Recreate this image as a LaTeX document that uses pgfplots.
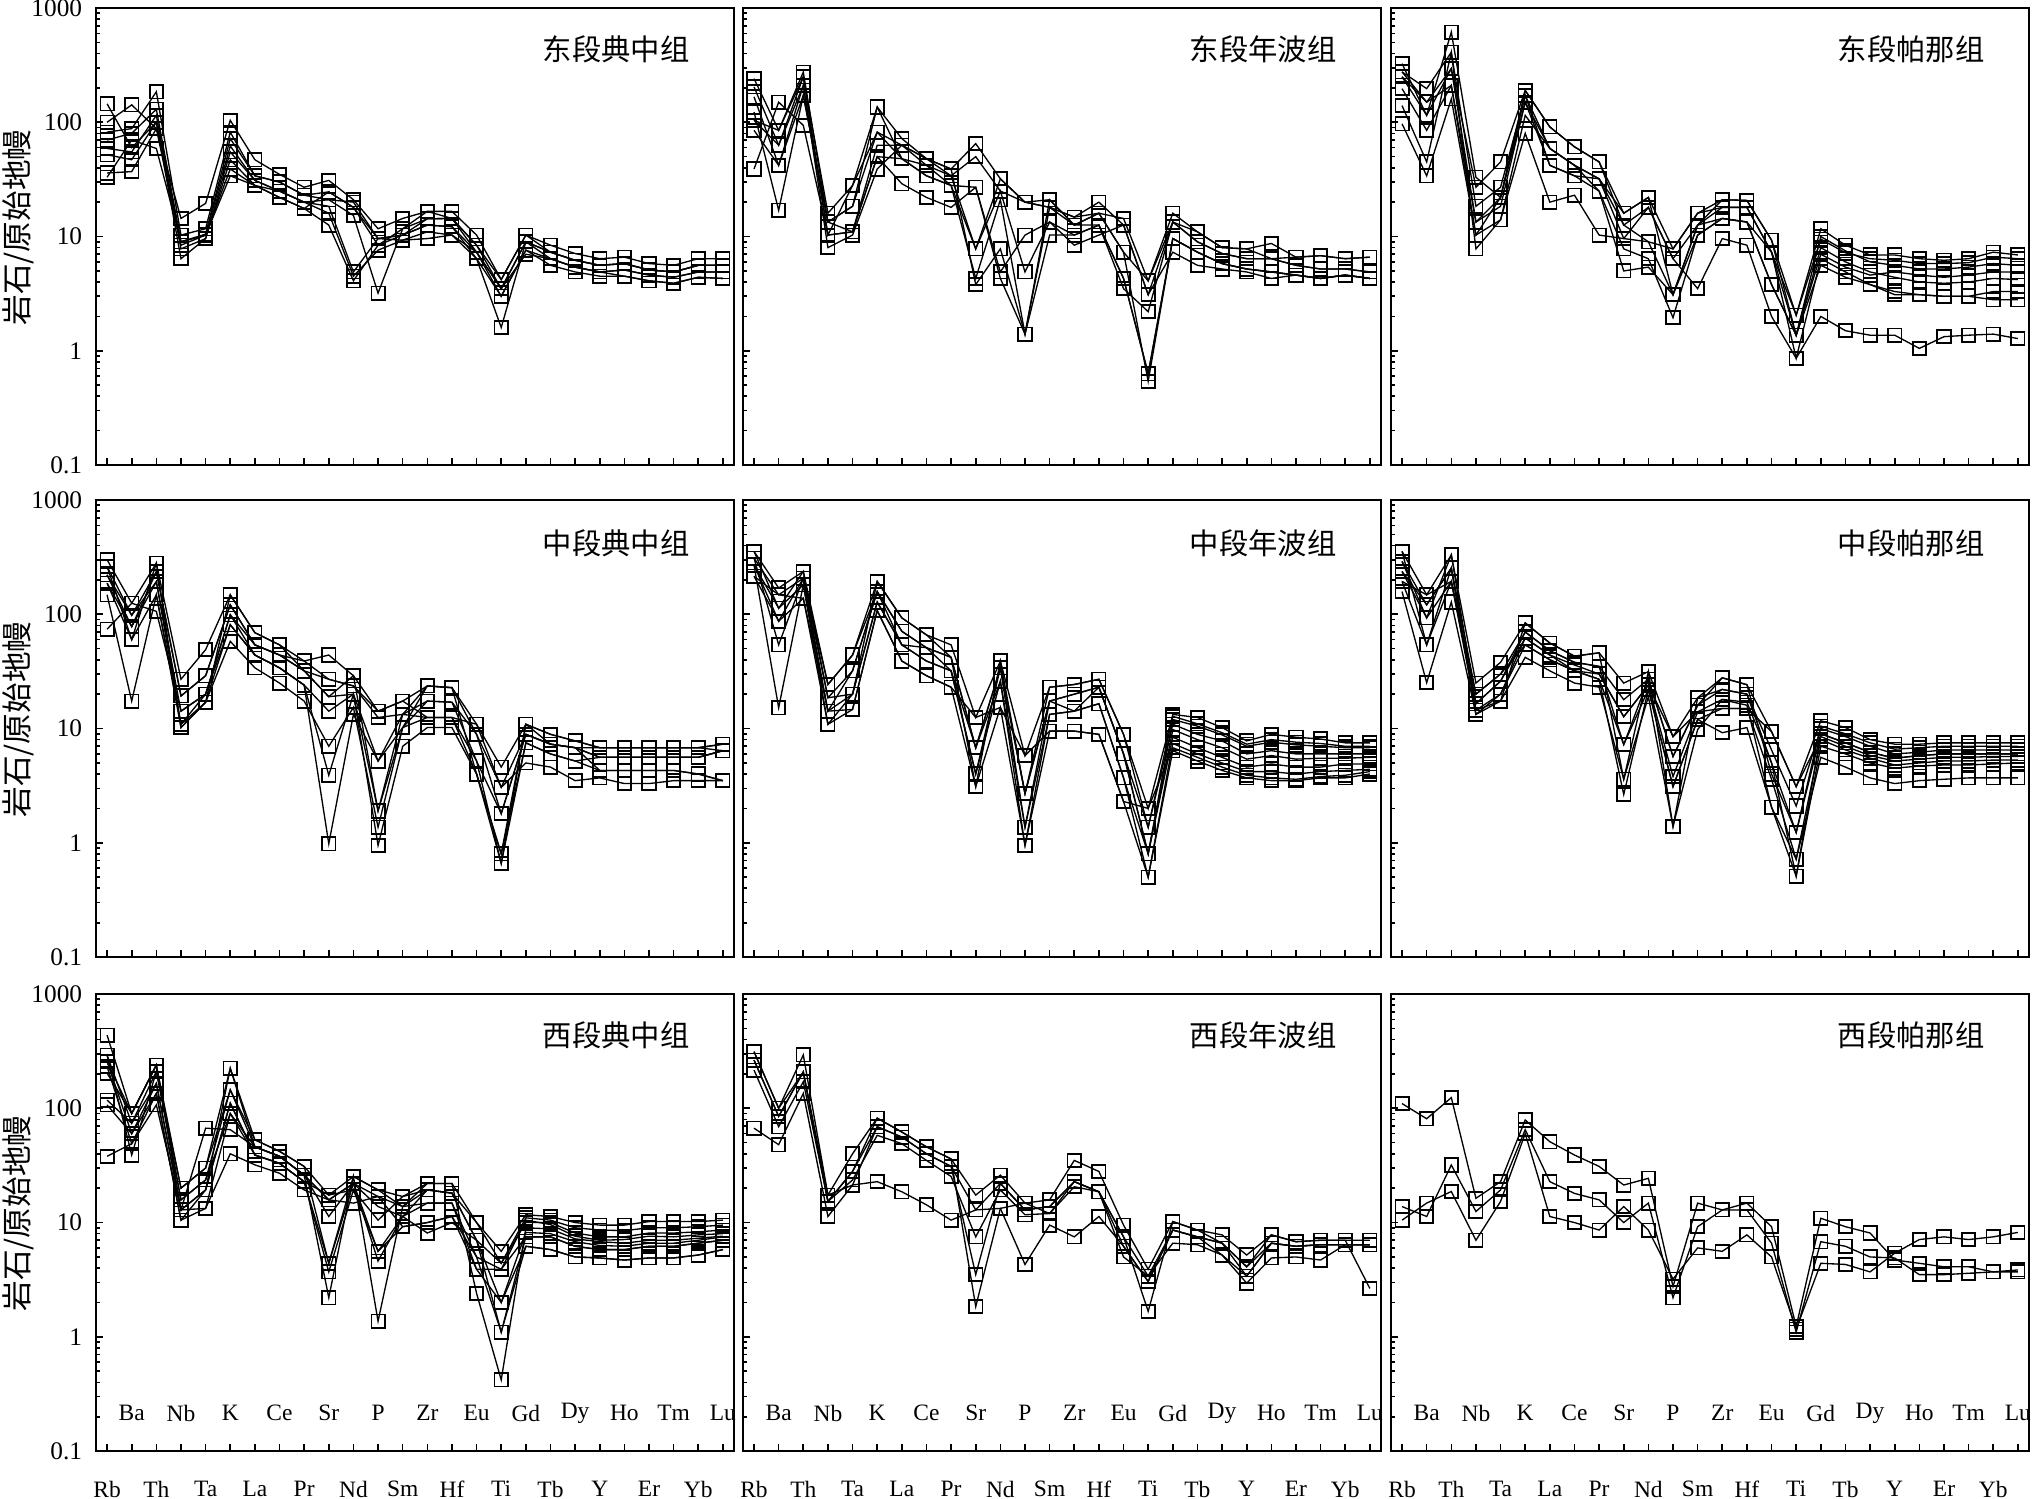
\documentclass[border=0pt]{standalone}
\usepackage{fontspec}
\setmainfont{Liberation Serif}
\newfontfamily\cjk{Noto Sans CJK SC}
\usepackage{pgfplots}
\usepackage{pgfplotstable}
\pgfplotsset{compat=1.18}

% element order: Rb Ba Th Nb Ta K La Ce Pr Sr Nd P Sm Zr Hf Eu Ti Gd Tb Dy Y Ho Er Tm Yb Lu
\pgfplotstableread{
i  A    B    C    D    E    F    G    H
0  145  100  82   70   59   52   36   33
1  60   142  88   80   55   47   37   70
2  100  88   185  130  115  100  88   59
3  9    14.4 10.3 9    7.8  6.4  8.4  9
4  10.5 19.5 11.7 10.3 9.6  9.6  10.3 10.3
5  72   104  82   62   55   47   39   34
6  34   47   34   31   31   28   28   28
7  30   35   30   25   25   22   25   22
8  23   27   23   20   20   17.6 20   17.6
9  21   31   24.6 18.4 16   12.6 21   24.6
10 20   21   18   4.9  4.5  4.1  15.3 18
11 9.6  11.7 8.4  9.6  7.6  8.4  3.2  9.6
12 10.3 14.4 11.7 10.3 9.3  10.3 11.7 9.3
13 14.3 16.6 16.6 12.6 11   12.6 14.3 9.6
14 14.4 16.6 14.4 12.2 10.3 12.2 14.4 10.3
15 8.4  10.3 7.3  7.3  6.4  6.4  8.4  7.3
16 3.5  4.2  3.5  3    3    1.6  4.2  3.5
17 9    10.3 9    7.6  7.6  9    10.3 7
18 7.3  8.4  7.3  6.4  5.6  6.4  7.3  6.4
19 6.2  7.1  6.2  5.4  4.9  5.4  6.2  5.4
20 5.6  6.4  5.6  4.9  4.5  4.9  5.6  4.9
21 5.8  6.6  5.8  5.1  4.5  5.1  5.8  4.5
22 5.1  5.8  5.1  4.6  4.1  4.6  5.1  4.1
23 4.9  5.6  4.9  4.4  3.9  4.4  4.9  3.9
24 5.6  6.4  5.6  4.9  4.4  4.9  5.6  4.4
25 5.6  6.4  5.6  4.9  4.3  4.9  5.6  4.3
}\tEa

\pgfplotstableread{
i  A    B    C    D    E    F    G    H
0  241  204  167  123  104  85   39   104
1  85   63   42   17   63   42   150  85
2  275  250  210  172  210  172  94   250
3  13.4 16   10.3 13.4 8    13.4 10.3 10.3
4  18.4 28   11   11   10.3 18.4 11   28
5  136  82   63   50   39   82   50   136
6  72   63   63   48   63   48   29   48
7  48   42   48   42   48   34   22   34
8  39   34   34   28   39   28   18   28
9  65   50   7.8  4.3  3.8  27   27   7.8
10 32   25   25   21   7.8  4.9  4.3  32
11 20   20   4.9  1.4  1.4  10.3 1.4  20
12 21   18   13.4 21   18   13.4 10.3 18
13 12.6 14.8 10.3 12.6 12.6 8.4  10.3 14.8
14 16   20   12.6 16   12.6 10.3 12.6 16
15 14.4 12.6 4.3  7.3  3.5  12.6 4.3  7.3
16 4.1  3.1  0.63 0.54 2.2  3.1  0.63 4.1
17 16   13.4 9.6  9.6  13.4 7.3  9.6  13.4
18 11   9    7.3  7.3  9    5.6  7.3  11
19 8    7.1  5.8  5.8  7.1  5.2  5.8  8
20 7.8  6.4  5.2  5.2  6.4  4.9  5.2  7.8
21 8.7  6.4  4.9  4.9  6.4  4.3  4.9  6.4
22 6.6  5.6  4.6  4.6  5.6  4.6  4.6  6.6
23 6.8  5.2  4.3  4.3  5.2  4.3  4.3  6.8
24 6.4  5.2  4.6  4.6  5.2  4.6  4.6  6.4
25 6.6  4.9  4.3  4.3  4.9  4.3  4.3  6.6
}\tEb

\pgfplotstableread{
i  A    B    C    D    E    F    G    H
0  326  276  250  197  140  97   250  276
1  115  197  150  85   45   34   115  150
2  615  410  295  210  410  160  295  210
3  33   18.4 13.4 10.3 7.8  10.3 27   13.4
4  22   27   18.4 22   14   14   45   22
5  190  172  150  150  115  80   190  172
6  91   59   59   42   59   20   91   42
7  61   42   42   34   42   23   61   34
8  45   32   32   25   25   10.3 45   32
9  16   12.6 9.6  7.8  5    9.6  12.6 16
10 22   18   9    6.4  5.4  18   9    22
11 7.8  6.4  3.1  1.95 3.1  6.4  7.8  3.1
12 16   12.6 10.3 10.3 12.6 3.5  16   12.6
13 21   18   14.4 14.4 21   9.6  18   14.4
14 20.7 18   13.4 13.4 20.7 8.4  18   13.4
15 9.3  7.3  3.8  7.3  9.3  2    7.3  3.8
16 2.05 1.37 1.37 0.86 1.37 0.86 2.05 1.37
17 11.7 10   8    6.4  5.6  2    9.5  7
18 8.4  7.5  6    4.9  4.4  1.5  7.2  5.4
19 6.9  6    4.9  3.8  3.8  1.37 6.4  4.6
20 6.9  5.6  4.4  3.3  3.1  1.37 6.2  4.9
21 6.4  5.2  4    3.1  3.1  1.05 5.8  4.6
22 6.2  5.2  3.9  3    3    1.33 5.8  4.4
23 6.4  5.4  4    3    3    1.37 5.9  4.6
24 7.3  5.8  4.3  2.8  3.3  1.4  6.6  4.9
25 6.9  5.6  4.2  2.8  3.3  1.28 6.4  4.9
}\tEc

\pgfplotstableread{
i  A    B    C    D    E    F    G    H    I
0  300  262  221  187  148  74   221  187  262
1  125  98   78   60   17.4 125  98   78   60
2  280  236  193  148  148  106  193  236  280
3  27   19.3 14.2 10.9 10.2 14.2 10.9 19.3 10.2
4  49   29   20   17   17   20   20   29   17
5  148  121  99   81   58   81   99   121  148
6  69   54   54   44   34   44   44   54   69
7  54   44   44   34   25   34   34   44   54
8  39   32   32   24   17.4 24   24   39   32
9  44   27   19   14.2 7    3.9  0.98 27   19
10 29   23.6 20   20   15.3 20   13.3 23.6 29
11 14.2 12.5 5.2  1.9  1.37 0.95 5.2  14.2 1.9
12 17.4 13.3 10.2 13.3 10.2 7    13.3 17.4 10.2
13 23.6 23.6 17.4 12.5 12.5 10.2 17.4 12.5 23.6
14 22.8 22.8 17   12.5 12.5 10.2 17   12.5 22.8
15 10.9 8.9  5.2  4    5.2  4    8.9  10.9 4
16 4.6  3.06 1.8  0.8  0.66 0.8  1.8  3.06 0.66
17 10.9 8.9  8.9  7.5  7.5  10.9 8.9  5    10.9
18 8.9  7.3  7.3  6    6    8.9  7.3  4.6  7.3
19 7.8  6.8  6.8  5.2  5.2  7.8  6.8  3.5  6.8
20 6.8  5.6  6.8  5.6  4.3  6.8  5.6  3.7  4.3
21 6.8  5.6  6.8  5.6  4.3  6.8  5.6  3.3  4.3
22 6.8  5.6  6.8  5.6  4.3  6.8  5.6  3.3  4.3
23 6.8  5.6  6.8  5.6  4.3  6.8  5.6  3.5  4.3
24 6.8  5.6  6.8  5.6  4    6.8  5.6  3.5  4
25 7.3  6.4  6.4  6.4  3.5  7.3  6.4  3.5  3.5
}\tMa

\pgfplotstableread{
i  A    B    C    D    E    F    G    H    I
0  355  310  270  215  310  270  355  215  270
1  170  148  113  87   54   15.2 113  148  87
2  237  207  181  138  207  181  237  138  207
3  24.3 18.6 14.2 10.9 14.2 10.9 18.6 14.2 24.3
4  44   32   20   14.7 32   20   20   14.7 44
5  194  158  128  108  158  128  194  108  158
6  93   71   54   39   71   54   93   39   54
7  66   51   39   29   51   39   66   29   51
8  54   42   32   23   32   32   42   23   42
9  12.5 6.8  4    3.1  4    6.8  3.1  12.5 6.8
10 39   34   26   15.3 34   26   39   15.3 34
11 5.8  2.7  1.37 0.95 1.37 0.95 2.7  5.8  2.7
12 23   17.4 13.3 9.5  17.4 13.3 23   9.5  17.4
13 24.3 20   14.2 9.5  20   14.2 24.3 9.5  14.2
14 27   23   16.5 8.9  23   16.5 27   8.9  23
15 8.9  6    3.7  2.3  6    3.7  8.9  2.3  6
16 2    1.37 0.8  0.5  0.8  0.5  1.37 2    0.8
17 13.3 10.9 8.4  6.4  9.8  7.4  12.8 6.8  12
18 12.5 8.9  6.8  5.2  8    6    11   5.6  10.5
19 10.2 7.8  5.6  4.3  6.8  5    9.2  4.6  8.8
20 7.8  6    4.6  3.7  5.4  4.2  7.3  3.9  7
21 8.9  6.4  4.9  3.5  5.8  4.2  8    3.7  7.6
22 8.4  6    4.6  3.5  5.4  4    7.6  3.6  7.2
23 8.1  6    4.6  3.7  5.5  4.2  7.4  3.8  7
24 7.5  6    4.9  3.7  5.5  4.3  7    3.9  6.8
25 7.5  6    4.9  4    5.6  4.4  7    4.2  6.8
}\tMb

\pgfplotstableread{
i  A    B    C    D    E    F    G    H    I
0  355  290  237  194  158  237  290  194  355
1  148  121  93   54   25.2 121  93   148  54
2  331  254  194  194  128  254  331  194  254
3  25   20   16.5 14.5 13.3 13.3 16.5 20   14.5
4  38   30   26   20   17.4 20   26   30   17.4
5  84   70   62   54   42   62   70   54   84
6  56   48   44   40   32   44   48   40   56
7  43   38   36   32   25   32   38   32   43
8  46   35   30   27   23   27   35   30   46
9  25   17.9 12.7 7.25 3.6  2.65 7.25 12.7 3.6
10 31.5 27   24   22   19   22   27   24   31.5
11 8.5  5.7  3.8  3.1  1.39 3.1  5.7  8.5  1.39
12 18.6 16   14   12   9.8  12   16   14   18.6
13 27.8 22   18   15   17.9 9.2  27.8 15   22
14 24.2 20   17   15   16   10.2 24.2 15   20
15 9.4  6.5  5    3.6  2.05 2.05 4    9.4  5
16 3.1  2.1  1.23 0.72 0.51 0.72 1.23 3.1  0.51
17 11.7 10   9    8    7    5.6  10.5 8.5  9
18 10.2 8.5  7.5  6.5  6    4.6  9    7    7.5
19 8    7    6.2  5.5  5    3.7  7.5  5.8  6.2
20 7.3  6    5.5  4.8  4.5  3.3  6.6  5.2  5.5
21 7.3  6.2  5.8  5    4.7  3.5  6.8  5.4  5.8
22 7.5  6.5  6    5.2  4.8  3.6  7    5.6  6
23 7.5  6.5  6    5.2  4.8  3.7  7    5.6  6
24 7.5  6.5  6    5.3  4.9  3.7  7    5.7  6
25 7.5  6.5  6    5.3  5    3.7  7    5.7  6
}\tMc

\pgfplotstableread{
i  A    B    C    D    E    F    G    H    I    J
0  437  292  256  232  203  118  107  38   292  256
1  90   74   60   49   90   74   60   49   39   90
2  239  210  165  135  239  165  135  107  210  239
3  20   15.8 12.9 10.5 15.8 12.9 10.5 12.9 20   12.9
4  30   23.6 19.3 13.3 23.6 67   19.3 13.3 30   19.3
5  224  145  111  90   90   65   111  40   145  224
6  53   46   39   39   46   46   39   32   53   46
7  42   38   33   33   38   38   33   27   42   38
8  31   26   22.8 22.8 26   26   22.8 19.3 31   26
9  17.4 15.8 4.4  3.7  2.2  11.3 17.4 15.8 4.4  15.8
10 25.3 22   22   19.3 25.3 22   19.3 14.8 25.3 22
11 19.3 16.9 13.8 5.6  1.37 4.6  10.5 16.9 19.3 5.6
12 16.9 13.8 11.3 9.2  13.8 11.3 16.9 9.2  13.8 11.3
13 22   19.3 14.8 10   22   8.1  19.3 10   14.8 19.3
14 22   18.1 14.8 11.3 22   10   18.1 11.3 14.8 18.1
15 10   7    5    3.9  2.4  7    10   5    3.9  7
16 5.6  4.4  3.9  2    0.42 1.1  4.4  1.1  3.9  2
17 11.7 10   7.5  6.2  9    7.5  11   6.2  10.5 8.2
18 11.3 10   7.5  5.8  8.8  7.5  10.5 5.8  9.6  8
19 10   8.1  6.2  5    7.2  6.2  9    5    7.6  6.8
20 9.5  7.5  5.8  4.9  6.8  5.8  8.6  4.9  7    6.3
21 9.5  7.5  5.8  4.7  6.6  5.8  8.5  4.7  7.1  6.2
22 10.2 8.1  6.2  4.9  7    6.2  9    4.9  7.6  6.6
23 10.2 8.1  6.2  4.9  7    6.2  9    4.9  7.5  6.6
24 10.2 8.3  6.6  5.2  7.3  6.6  9.2  5.2  7.8  7
25 10.5 8.6  7    5.8  7.6  7    9.5  5.8  8    7.5
}\tWa

\pgfplotstableread{
i  A    B    C    D    E    F
0  313  264  216  264  313  67
1  100  85   69   85   100  48
2  293  208  171  208  208  135
3  17.4 15.3 15.3 17.4 15.3 11.3
4  40   28   23.6 21.3 28   21.3
5  82   69   58   69   82   22.8
6  62   56   49   56   62   18.6
7  46   40   35   40   46   14.3
8  36   31   25.3 31   36   10.5
9  17.4 12.9 7.5  3.5  1.84 12.9
10 26   22   19.3 22   13.3 13.3
11 14.8 12.9 11.7 12.9 14.8 4.3
12 15.8 13.8 12   13.8 12   9.5
13 35   22.8 20.6 22.8 22.8 7.5
14 28   18.6 18.6 18.6 18.6 11.3
15 9.5  7.5  6.2  5    7.5  6.2
16 3.9  3.4  3.05 3.4  1.67 3.05
17 10.2 8.6  8.6  6.6  10.2 8.6
18 8.6  7.5  7.5  6.4  8.6  7.5
19 7.8  6.6  6.6  5.2  6.6  5.2
20 5.2  4.1  3.4  2.95 4.1  3.4
21 7.8  6.6  6.6  4.9  7.8  6.6
22 6.8  6.2  6.2  5    6.8  6.2
23 7    6.4  6.4  4.7  7    6.4
24 7    6.4  6.4  6.4  7    6.4
25 7    6.4  6.4  6.4  2.65 6.4
}\tWb

\pgfplotstableread{
i  A    B    C
0  110  13.8 10.5
1  81   11.3 14.8
2  124  31.9 18.7
3  16.3 12.5 7
4  22.8 19.3 15.3
5  79   65   60
6  51   22.8 11.3
7  39   18   10
8  31   15.8 8.6
9  21.3 10   13.8
10 24.4 14.8 8.6
11 2.76 2.2  3.2
12 14.8 9.2  6
13 12.9 12.9 5.6
14 14.8 12.9 7.8
15 9.2  6.6  5
16 1.23 1.1  1.17
17 10.9 6.8  4.4
18 9.2  6.2  4.3
19 8.1  5    3.7
20 4.7  4.9  5.4
21 4.4  3.5  7.1
22 4.1  3.5  7.5
23 4.1  3.6  7.1
24 3.7  3.7  7.5
25 3.85 3.7  8.2
}\tWc

% one panel: #1 position and extra options
\newcommand{\spax}[1]{\begin{axis}[
    scale only axis, width=239.25pt, height=171.4pt,
    anchor=north west,
    ymode=log, ymin=0.1, ymax=1000, xmin=-0.45, xmax=25.45,
    xtick={0,...,25}, xticklabels={},
    ytick={0.1,1,10,100,1000}, yticklabels={0.1,1,10,100,1000},
    minor ytick={0.2,0.3,0.4,0.5,0.6,0.7,0.8,0.9,2,3,4,5,6,7,8,9,20,30,40,50,60,70,80,90,200,300,400,500,600,700,800,900},
    tick align=inside, tick pos=left,
    major tick length=2.8pt, minor tick length=1.6pt,
    tick style={black, line width=0.6pt},
    axis line style={line width=0.9pt},
    yticklabel style={font=\fontsize{9.5}{9.5}\selectfont, inner sep=0pt, xshift=-5pt},
    #1]}
\newcommand{\series}[2]{\pgfplotsinvokeforeach{#1}{%
  \addplot[black, line width=0.5pt, mark=square, mark size=2.5pt,
    mark options={solid, line width=0.65pt}] table[x=i,y=##1]{#2};}}
\newcommand{\ttl}[2]{\node[anchor=east, inner sep=0pt, font=\cjk\fontsize{11}{12}\selectfont]
  at (rel axis cs:0.931,#1) {#2};}

\begin{document}
\begin{tikzpicture}
\useasboundingbox (0,0) rectangle (762pt,-562.1pt);
% row 1
\spax{at={(36pt,-3pt)}, ylabel={\cjk 岩石/原始地幔},
  ylabel style={at={(axis description cs:-0.122,0.52)}, anchor=center, inner sep=0pt, font=\fontsize{11.5}{11.5}\selectfont}}
\series{A,B,C,D,E,F,G,H}{\tEa}
\ttl{0.91}{东段典中组}
\end{axis}
\spax{at={(278.6pt,-3pt)}, yticklabels={}}
\series{A,B,C,D,E,F,G,H}{\tEb}
\ttl{0.91}{东段年波组}
\end{axis}
\spax{at={(521.6pt,-3pt)}, yticklabels={}}
\series{A,B,C,D,E,F,G,H}{\tEc}
\ttl{0.91}{东段帕那组}
\end{axis}
% row 2
\spax{at={(36pt,-187.5pt)}, ylabel={\cjk 岩石/原始地幔},
  ylabel style={at={(axis description cs:-0.122,0.52)}, anchor=center, inner sep=0pt, font=\fontsize{11.5}{11.5}\selectfont}}
\series{A,B,C,D,E,F,G,H,I}{\tMa}
\ttl{0.905}{中段典中组}
\end{axis}
\spax{at={(278.6pt,-187.5pt)}, yticklabels={}}
\series{A,B,C,D,E,F,G,H,I}{\tMb}
\ttl{0.905}{中段年波组}
\end{axis}
\spax{at={(521.6pt,-187.5pt)}, yticklabels={}}
\series{A,B,C,D,E,F,G,H,I}{\tMc}
\ttl{0.905}{中段帕那组}
\end{axis}
% row 3
\spax{at={(36pt,-372.75pt)}, ylabel={\cjk 岩石/原始地幔},
  ylabel style={at={(axis description cs:-0.122,0.52)}, anchor=center, inner sep=0pt, font=\fontsize{11.5}{11.5}\selectfont},
  xtick={0,2,...,24}, xticklabels={Rb,Th,Ta,La,Pr,Nd,Sm,Hf,Ti,Tb,Y,Er,Yb},
  xticklabel style={anchor=center, yshift=-14.25pt, font=\fontsize{8.8}{8.8}\selectfont},
  extra x ticks={1,3,...,25}, extra x tick labels={Ba,Nb,K,Ce,Sr,P,Zr,Eu,Gd,Dy,Ho,Tm,Lu},
  extra x tick style={xticklabel style={yshift=28.5pt}}}
\series{A,B,C,D,E,F,G,H,I,J}{\tWa}
\ttl{0.91}{西段典中组}
\end{axis}
\spax{at={(278.6pt,-372.75pt)}, yticklabels={},
  xtick={0,2,...,24}, xticklabels={Rb,Th,Ta,La,Pr,Nd,Sm,Hf,Ti,Tb,Y,Er,Yb},
  xticklabel style={anchor=center, yshift=-14.25pt, font=\fontsize{8.8}{8.8}\selectfont},
  extra x ticks={1,3,...,25}, extra x tick labels={Ba,Nb,K,Ce,Sr,P,Zr,Eu,Gd,Dy,Ho,Tm,Lu},
  extra x tick style={xticklabel style={yshift=28.5pt}}}
\series{A,B,C,D,E,F}{\tWb}
\ttl{0.91}{西段年波组}
\end{axis}
\spax{at={(521.6pt,-372.75pt)}, yticklabels={},
  xtick={0,2,...,24}, xticklabels={Rb,Th,Ta,La,Pr,Nd,Sm,Hf,Ti,Tb,Y,Er,Yb},
  xticklabel style={anchor=center, yshift=-14.25pt, font=\fontsize{8.8}{8.8}\selectfont},
  extra x ticks={1,3,...,25}, extra x tick labels={Ba,Nb,K,Ce,Sr,P,Zr,Eu,Gd,Dy,Ho,Tm,Lu},
  extra x tick style={xticklabel style={yshift=28.5pt}}}
\series{A,B,C}{\tWc}
\ttl{0.91}{西段帕那组}
\end{axis}
\end{tikzpicture}
\end{document}
